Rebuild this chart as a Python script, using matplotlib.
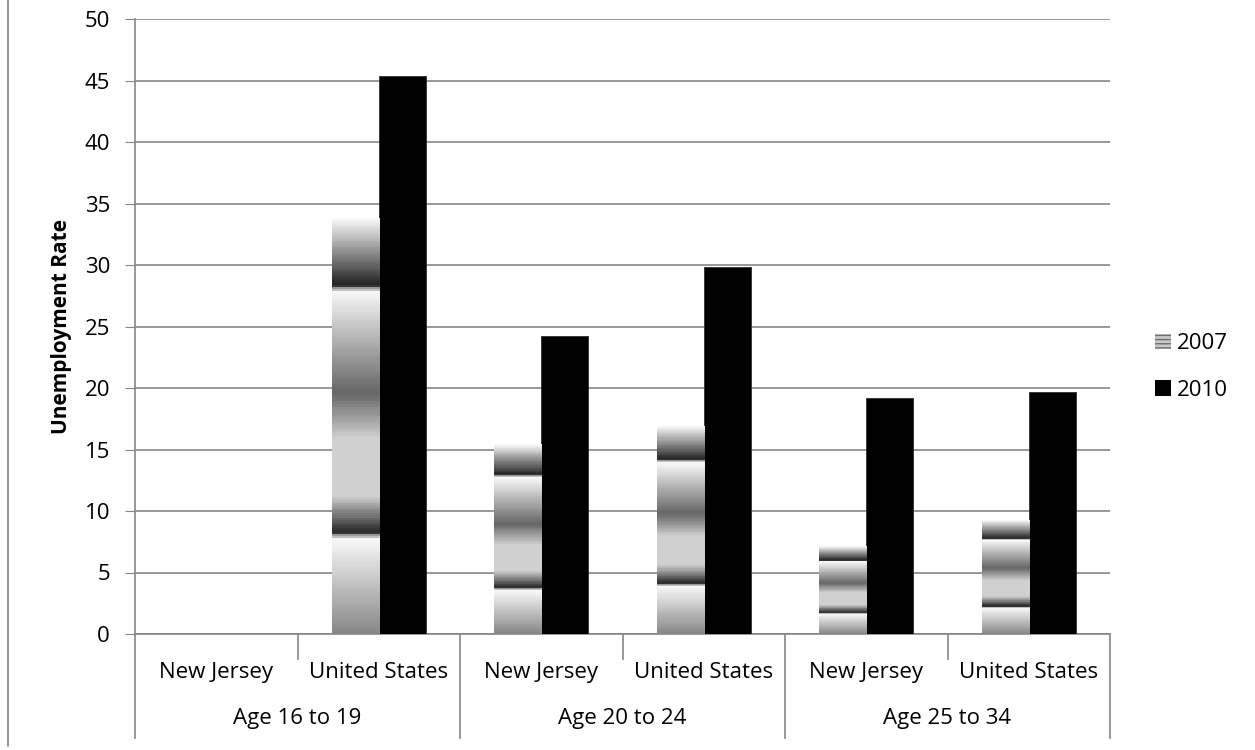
import numpy as np
import matplotlib
matplotlib.use("Agg")
import matplotlib.pyplot as plt
from matplotlib.patches import Patch
from matplotlib.colors import LinearSegmentedColormap

plt.rcParams['font.family'] = ['Open Sans', 'DejaVu Sans']

groups = ['Age 16 to 19', 'Age 20 to 24', 'Age 25 to 34']
places = ['New Jersey', 'United States']
rate_2007 = [np.nan, 33.8, 15.4, 16.9, 7.1, 9.2]
rate_2010 = [np.nan, 45.4, 24.2, 29.8, 19.2, 19.7]

# chrome-style gradient, top of bar -> bottom
chrome = LinearSegmentedColormap.from_list('chrome', [
    (0.00, '#f8f8f8'), (0.16, '#202020'), (0.165, '#a0a0a0'), (0.175, '#f8f8f8'),
    (0.42, '#666666'), (0.53, '#d0d0d0'), (0.67, '#d0d0d0'), (0.76, '#202020'),
    (0.765, '#a0a0a0'), (0.775, '#f8f8f8'), (1.00, '#888888')])
bands = np.linspace(0, 1, 200).reshape(-1, 1)

fig = plt.figure(figsize=(12.55, 7.5), dpi=100)
ax = fig.add_axes([135 / 1255, 1 - 634 / 750, 975 / 1255, 615 / 750])

x = np.arange(len(rate_2007))
w = 0.29
grid_c = '#868686'
fs = 16

bars07 = ax.bar(x - w / 2, rate_2007, w, facecolor='none', edgecolor='none', zorder=3)
ax.bar(x + w / 2, rate_2010, w, color='black', edgecolor='#303030', linewidth=0.6, zorder=3)

for b in bars07:
    h = b.get_height()
    if np.isnan(h):
        continue
    x0 = b.get_x()
    ax.imshow(bands, cmap=chrome, vmin=0, vmax=1, aspect='auto', interpolation='nearest',
              extent=(x0, x0 + b.get_width(), 0, h), zorder=3)

ax.set_xlim(-0.5, len(x) - 0.5)
ax.set_ylim(0, 50)
ax.set_yticks(range(0, 51, 5))
ax.tick_params(axis='y', labelsize=fs, length=7, color=grid_c, pad=11)
ax.yaxis.grid(True, color=grid_c, linewidth=1.2, zorder=0)
ax.set_axisbelow(True)
for s in ['top', 'right']:
    ax.spines[s].set_visible(False)
for s in ['left', 'bottom']:
    ax.spines[s].set_color(grid_c)
    ax.spines[s].set_linewidth(1.2)
ax.set_ylabel('Unemployment Rate', fontsize=15, fontweight='bold', labelpad=9)

# two-level category axis
ax.set_xticks([])
tr = ax.get_xaxis_transform()
for i in range(len(x)):
    ax.text(i, -0.062, places[i % 2], transform=tr, ha='center', va='center', fontsize=fs)
for g, name in enumerate(groups):
    ax.text(2 * g + 0.5, -0.137, name, transform=tr, ha='center', va='center', fontsize=fs)
for i in range(len(x) + 1):
    xb = i - 0.5
    bottom = -0.169 if i % 2 == 0 else -0.04
    ax.plot([xb, xb], [0, bottom], transform=tr, color=grid_c, lw=1.2, clip_on=False)

# chart area border on the left
fig.add_artist(plt.Line2D([8 / 1255, 8 / 1255], [0.005, 1], color=grid_c, lw=1.2))

handles = [Patch(facecolor='#c8c8c8', edgecolor='#707070', hatch='----', linewidth=0),
           Patch(facecolor='black')]
fig.legend(handles, ['2007', '2010'], loc='center left', bbox_to_anchor=(1135 / 1255, 1 - 367 / 750),
           frameon=False, fontsize=fs, handlelength=0.7, handleheight=0.7,
           handletextpad=0.3, labelspacing=1.15)

fig.savefig('out.png', dpi=100)
